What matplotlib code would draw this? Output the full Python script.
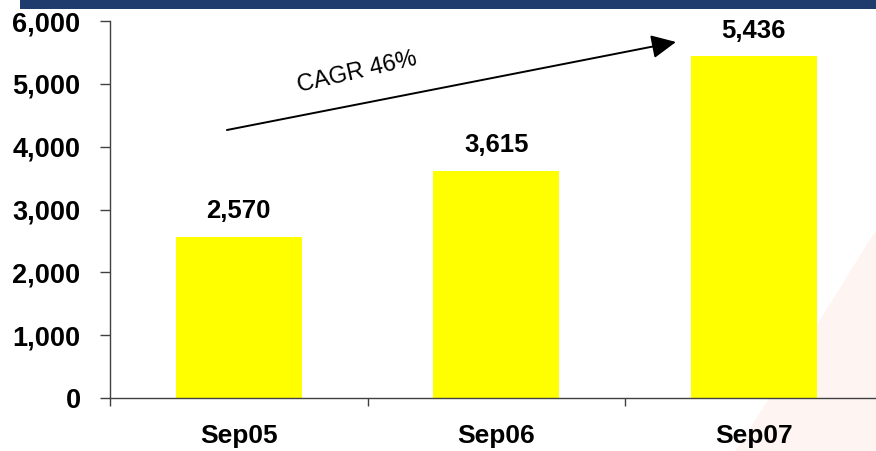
import matplotlib
matplotlib.use("Agg")
import matplotlib.pyplot as plt
from matplotlib.patches import Rectangle, Polygon
from matplotlib.ticker import FixedLocator, FuncFormatter

# Data
categories = ["Sep05", "Sep06", "Sep07"]
values = [2570, 3615, 5436]
y_ticks = [0, 1000, 2000, 3000, 4000, 5000, 6000]
cagr_label = "CAGR 46%"

plt.rcParams["font.family"] = ["Liberation Sans", "DejaVu Sans"]

W, H = 876, 451
fig = plt.figure(figsize=(W / 100, H / 100), dpi=100)
fig.patch.set_facecolor("white")

# faint decorative shape in the lower right corner
fig.patches.append(Polygon(
    [(1.0, 1 - 230 / H), (1.0, 0.0), (735 / W, 0.0), (820 / W, 1 - 320 / H)],
    closed=True, transform=fig.transFigure, facecolor="#FEF5F2",
    edgecolor="none", zorder=-5))

# navy band across the top
fig.patches.append(Rectangle((20 / W, 1 - 9 / H), 1 - 20 / W, 9 / H,
                             transform=fig.transFigure, facecolor="#1F3A6C",
                             edgecolor="none", zorder=1))

left, right = 110 / W, 1.0
bottom, top = (H - 398) / H, (H - 21) / H
ax = fig.add_axes([left, bottom, right - left, top - bottom])
ax.set_zorder(2)
ax.patch.set_alpha(0)

x = list(range(len(categories)))
ax.bar(x, values, width=0.49, color="#FFFF00", edgecolor="none", zorder=2)

ax.set_xlim(-0.5, -0.5 + (W - 110) / 257.5)
ax.set_ylim(0, 6000)

axis_color = "#404040"
for side in ("top", "right"):
    ax.spines[side].set_visible(False)
for side in ("left", "bottom"):
    ax.spines[side].set_color(axis_color)
    ax.spines[side].set_linewidth(1.0)

ax.yaxis.set_major_locator(FixedLocator(y_ticks))
ax.yaxis.set_major_formatter(FuncFormatter(lambda v, p: f"{int(v):,}"))
ax.tick_params(axis="y", direction="out", length=7.2, width=1.0,
               color=axis_color, pad=14, labelsize=19.5)
for lbl in ax.get_yticklabels():
    lbl.set_fontweight("bold")

ax.set_xticks(x)
ax.set_xticklabels(categories, fontsize=19, fontweight="bold")
ax.tick_params(axis="x", which="major", length=0, pad=19)
ax.set_xticks([-0.5, 0.5, 1.5], minor=True)
ax.tick_params(axis="x", which="minor", direction="out", length=6,
               width=1.0, color=axis_color)

for xi, v in zip(x, values):
    ax.annotate(f"{v:,}", xy=(xi, v), xytext=(0, 10),
                textcoords="offset points", ha="center", va="bottom",
                fontsize=18.5, fontweight="bold", color="black")

# growth arrow
ax.annotate("", xy=(1.698, 5666), xytext=(-0.046, 4265),
            arrowprops=dict(arrowstyle="-|>,head_length=0.75,head_width=0.36",
                            mutation_scale=20, color="black", lw=1.4,
                            shrinkA=0, shrinkB=0))
ax.text(0.459, 5188, cagr_label, rotation=13, ha="center", va="center",
        fontsize=17, color="black", rotation_mode="anchor")

fig.savefig("out.png", dpi=100, facecolor="white")
